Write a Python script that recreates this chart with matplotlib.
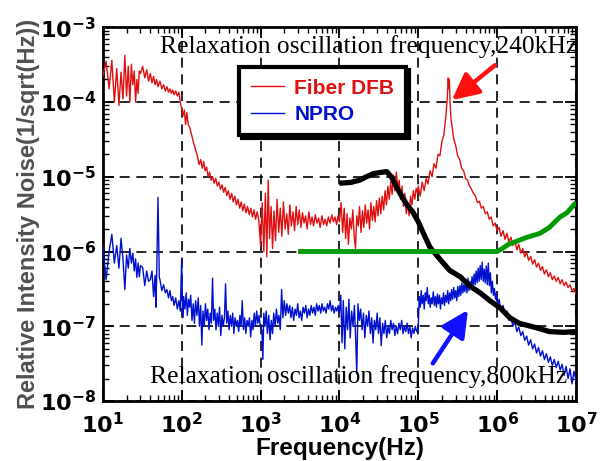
import math
import matplotlib
matplotlib.use("Agg")
import matplotlib.pyplot as plt
from matplotlib.ticker import FuncFormatter, LogLocator

plt.rcParams['mathtext.fontset'] = 'dejavusans'

# Fiber DFB relative intensity noise
red_freq = [10, 11, 12, 13, 14, 15, 16, 17, 18, 19, 20, 21, 22, 23, 24, 25, 26, 27, 28, 29,
            30, 32, 34, 36, 38, 40, 42, 44, 46, 48, 50, 53, 56, 59, 62, 65, 68, 71, 74, 77,
            80, 84, 88, 92, 96,
            100, 104, 108, 112, 116, 121, 127, 134, 142, 150, 158, 166, 174, 182, 190, 198,
            207, 216, 226, 236, 247, 258, 270, 283, 296, 310, 325, 340, 356, 373, 391, 410,
            430, 450, 472, 495, 518, 543, 569, 596, 624, 654, 685, 718, 752, 788, 826, 865,
            906, 950,
            1000, 1050, 1100, 1150, 1200, 1250, 1300, 1360, 1420, 1480, 1550, 1620, 1700,
            1780, 1860, 1950, 2050, 2150, 2250, 2350, 2460, 2580, 2700, 2830, 2960, 3100,
            3250, 3400, 3560, 3730, 3900, 4100, 4300, 4500, 4700, 4950, 5200, 5450, 5700,
            6000, 6300, 6600, 6900, 7250, 7600, 8000, 8400, 8800, 9200, 9600,
            10000, 10500, 11000, 11500, 12000, 12500, 13000, 13600, 14200, 14800, 15400,
            16000, 16600, 17300, 18000, 18800, 19600, 20400, 21300, 22200, 23100, 24100,
            25100, 26200, 27300, 28400, 29600, 30800, 32100, 33500, 34900, 36400, 37900,
            39500, 41200, 42900, 44700, 46600, 48600, 50600, 52800, 55000, 57300, 59700,
            62200, 64900, 67600, 70500, 73400, 76500, 79800, 83100, 86600, 90300, 94100,
            98000,
            100000, 106000, 112000, 119000, 126000, 133000, 141000, 150000, 158000, 168000,
            178000, 188000, 200000, 211000, 224000, 233000, 240000, 245000, 248000, 253000,
            260000, 270000, 282000, 299000, 316000, 335000, 355000, 376000, 398000, 422000,
            447000, 473000, 501000, 531000, 562000, 596000, 631000, 668000, 708000, 750000,
            794000, 841000, 891000, 944000,
            1000000, 1060000, 1120000, 1190000, 1260000, 1330000, 1410000, 1500000, 1580000,
            1680000, 1780000, 1880000, 2000000, 2110000, 2240000, 2370000, 2510000, 2660000,
            2820000, 2990000, 3160000, 3350000, 3550000, 3760000, 3980000, 4220000, 4470000,
            4730000, 5010000, 5310000, 5620000, 5960000, 6310000, 6680000, 7080000, 7500000,
            7940000, 8410000, 8910000, 9440000, 10000000]
red_rin = [2.2e-4, 3.5e-4, 1.5e-4, 3.6e-4, 1.0e-4, 2.8e-4, 0.9e-4, 2.5e-4, 1.1e-4, 4.2e-4,
           1.2e-4, 3.0e-4, 1.0e-4, 3.2e-4, 1.7e-4, 2.6e-4, 1.0e-4, 2.0e-4, 1.3e-4, 2.6e-4,
           2.4e-4, 3.0e-4, 2.1e-4, 2.7e-4, 1.9e-4, 2.4e-4, 1.8e-4, 2.2e-4, 1.7e-4, 2.0e-4,
           1.6e-4, 1.9e-4, 1.5e-4, 1.7e-4, 1.4e-4, 1.6e-4, 1.35e-4, 1.5e-4, 1.3e-4, 1.45e-4,
           1.25e-4, 1.4e-4, 1.2e-4, 1.35e-4, 1.0e-4,
           8.0e-5, 6.5e-5, 7.8e-5, 5.0e-5, 7.2e-5, 5.0e-5, 4.5e-5, 3.6e-5, 2.8e-5, 2.3e-5,
           1.9e-5, 1.45e-5, 1.7e-5, 1.3e-5, 1.6e-5, 1.2e-5, 1.35e-5, 1.0e-5, 1.15e-5, 9.0e-6,
           1.0e-5, 8.2e-6, 9.5e-6, 7.5e-6, 8.5e-6, 6.8e-6, 7.8e-6, 6.2e-6, 7.2e-6, 5.6e-6,
           6.5e-6, 5.0e-6, 6.0e-6, 4.6e-6, 5.5e-6, 4.2e-6, 5.0e-6, 3.8e-6, 4.6e-6, 3.5e-6,
           4.3e-6, 3.3e-6, 4.0e-6, 3.1e-6, 3.8e-6, 2.9e-6, 3.6e-6, 2.7e-6, 3.4e-6, 2.6e-6,
           1.2e-6, 4.5e-6, 1.0e-6, 6.0e-6, 0.85e-6, 9.0e-6, 1.5e-6, 4.0e-6, 1.1e-6, 3.5e-6,
           1.4e-6, 5.0e-6, 1.8e-6, 3.8e-6, 1.6e-6, 4.6e-6, 2.0e-6, 3.2e-6, 1.7e-6, 4.2e-6,
           2.2e-6, 3.4e-6, 1.9e-6, 4.0e-6, 2.3e-6, 3.6e-6, 2.1e-6, 3.3e-6, 2.4e-6, 3.0e-6,
           2.0e-6, 3.4e-6, 2.3e-6, 2.9e-6, 2.2e-6, 3.1e-6, 2.4e-6, 2.8e-6, 2.1e-6, 3.0e-6,
           2.3e-6, 2.7e-6, 2.2e-6, 2.9e-6, 2.4e-6, 3.1e-6, 2.5e-6, 2.9e-6, 2.3e-6, 3.0e-6,
           2.5e-6, 4.5e-6, 1.8e-6, 3.8e-6, 1.5e-6, 3.2e-6, 1.25e-6, 2.8e-6, 2.0e-6, 3.6e-6,
           1.6e-6, 1.1e-6, 3.0e-6, 2.2e-6, 4.0e-6, 1.8e-6, 3.5e-6, 2.1e-6, 4.2e-6, 2.4e-6,
           3.6e-6, 2.0e-6, 4.5e-6, 2.6e-6, 4.0e-6, 2.5e-6, 4.8e-6, 3.0e-6, 5.2e-6, 3.2e-6,
           5.5e-6, 3.6e-6, 6.5e-6, 4.2e-6, 7.5e-6, 5.0e-6, 8.5e-6, 5.8e-6, 10.5e-6, 6.5e-6,
           11.5e-6, 7.0e-6, 9.0e-6, 5.0e-6, 7.5e-6, 4.0e-6, 6.0e-6, 3.2e-6, 4.5e-6, 3.0e-6,
           5.5e-6, 4.2e-6, 6.5e-6, 5.0e-6, 7.0e-6, 6.0e-6,
           7.5e-6, 5.5e-6, 8.5e-6, 6.5e-6, 9.5e-6, 8.0e-6, 1.2e-5, 1.0e-5, 1.5e-5, 1.3e-5,
           2.0e-5, 1.9e-5, 3.0e-5, 3.6e-5, 6.5e-5, 1.1e-4, 2.1e-4, 1.5e-4, 2.0e-4, 1.0e-4,
           6.0e-5, 4.5e-5, 3.2e-5, 2.6e-5, 1.9e-5, 1.7e-5, 1.3e-5, 1.2e-5, 9.5e-6, 9.0e-6,
           7.5e-6, 6.8e-6, 6.0e-6, 5.5e-6, 4.5e-6, 4.7e-6, 3.8e-6, 4.0e-6, 3.2e-6, 3.4e-6,
           2.7e-6, 2.9e-6, 2.2e-6, 2.4e-6,
           1.9e-6, 2.1e-6, 1.6e-6, 1.9e-6, 1.45e-6, 1.75e-6, 1.35e-6, 1.55e-6, 1.2e-6,
           1.4e-6, 1.05e-6, 1.25e-6, 0.95e-6, 1.1e-6, 0.85e-6, 0.98e-6, 0.76e-6, 0.86e-6,
           0.68e-6, 0.78e-6, 0.62e-6, 0.7e-6, 0.56e-6, 0.63e-6, 0.5e-6, 0.57e-6, 0.46e-6,
           0.52e-6, 0.42e-6, 0.47e-6, 0.4e-6, 0.45e-6, 0.37e-6, 0.42e-6, 0.35e-6, 0.39e-6,
           0.33e-6, 0.36e-6, 0.3e-6, 0.32e-6, 0.27e-6]

# NPRO relative intensity noise
blue_freq = [10, 11, 12, 13, 14, 15, 16, 17, 18, 19, 20, 21, 22, 23, 24, 25, 26, 27, 28, 29,
             30, 32, 34, 36, 38, 40, 42, 44, 46, 47, 48, 50, 52, 53, 56, 59, 62, 65, 68, 71,
             74, 77, 80, 84, 88, 92, 96, 100,
             103, 106, 110, 114, 118, 122, 126, 130, 135, 140, 145, 150, 156, 162, 168, 174,
             180, 186, 193, 200, 207, 214, 222, 230, 238, 246, 254, 263, 272, 282, 292, 302,
             313, 324, 336, 348, 360, 372, 385, 399, 413, 428, 443, 459, 475, 492, 510, 528,
             547, 566, 586, 607, 629, 651, 674, 698, 723, 749, 776, 803, 832, 862, 892, 924,
             957, 990,
             1040, 1070, 1100, 1140, 1180, 1220, 1270, 1320, 1370, 1420, 1470, 1530, 1590,
             1650, 1710, 1780, 1850, 1920, 2000, 2080, 2160, 2250, 2340, 2430, 2530, 2630,
             2740, 2850, 2960, 3080, 3200, 3330, 3460, 3600, 3750, 3900, 4060, 4220, 4390,
             4570, 4750, 4940, 5140, 5350, 5560, 5790, 6020, 6260, 6510, 6780, 7050, 7330,
             7630, 7930, 8250, 8580, 8930, 9290, 9660,
             10000, 10400, 10800, 11200, 11700, 12200, 12700, 13200, 13700, 14300, 14900,
             15500, 16000, 16600, 17200, 17900, 18600, 19400, 20200, 21000, 21900, 22800,
             23700, 24700, 25700, 26700, 27800, 28900, 30100, 31300, 32600, 33900, 35300,
             36700, 38200, 39800, 41400, 43100, 44800, 46600, 48500, 50500, 52500, 54700,
             56900, 59200, 61600, 64100, 66700, 69400, 72200, 75100, 78200, 81300, 84600,
             88100, 91600, 95300, 98000,
             100000, 103000, 106000, 109000, 112000, 116000, 119000, 123000, 126000, 130000,
             134000, 138000, 142000, 146000, 150000, 155000, 160000, 165000, 170000, 175000,
             180000, 186000, 191000, 197000, 203000, 209000, 215000, 222000, 229000, 236000,
             243000, 250000, 258000, 265000, 273000, 282000, 290000, 299000, 308000, 317000,
             327000, 337000, 347000, 357000, 368000, 379000, 391000, 402000, 415000, 427000,
             440000, 453000, 467000, 481000, 496000, 511000, 526000, 542000, 558000, 575000,
             592000, 610000, 628000, 647000, 667000, 687000, 707000, 729000, 751000, 773000,
             797000, 821000, 845000, 871000, 897000, 924000, 952000, 981000,
             1010000, 1060000, 1120000, 1190000, 1260000, 1330000, 1410000, 1500000, 1580000,
             1680000, 1780000, 1880000, 2000000, 2110000, 2240000, 2370000, 2510000, 2660000,
             2820000, 2990000, 3160000, 3350000, 3550000, 3760000, 3980000, 4220000, 4470000,
             4730000, 5010000, 5310000, 5620000, 5960000, 6310000, 6680000, 7080000, 7500000,
             7940000, 8410000, 8910000, 9440000, 10000000]
blue_rin = [12e-7, 4.2e-7, 10e-7, 17e-7, 7e-7, 12e-7, 6e-7, 15e-7, 8e-7, 3.1e-7,
            9e-7, 6e-7, 11e-7, 7e-7, 9.5e-7, 5.5e-7, 8e-7, 4.5e-7, 7e-7, 4.6e-7,
            6.5e-7, 6.1e-7, 3.5e-7, 5.5e-7, 4.0e-7, 4.2e-7, 5.5e-7, 2.5e-7, 4.8e-7, 1.8e-7,
            4.0e-7, 53e-7, 4.5e-7, 4.2e-7, 3.0e-7, 3.6e-7, 2.8e-7, 3.1e-7, 2.4e-7, 3.0e-7,
            2.2e-7, 2.5e-7, 1.9e-7, 2.4e-7, 1.7e-7, 2.2e-7, 1.6e-7, 8.1e-7,
            1.3e-7, 2.5e-7, 1.7e-7, 2.8e-7, 1.4e-7, 2.3e-7, 1.8e-7, 2.6e-7, 1.2e-7, 2.0e-7,
            1.1e-7, 2.2e-7, 1.4e-7, 2.4e-7, 1.0e-7, 1.9e-7, 0.56e-7, 1.6e-7, 1.0e-7, 2.0e-7,
            1.2e-7, 1.7e-7, 0.9e-7, 1.5e-7, 1.1e-7, 4.4e-7, 1.2e-7, 1.7e-7, 0.9e-7, 1.5e-7,
            1.0e-7, 1.8e-7, 0.75e-7, 1.4e-7, 1.0e-7, 1.3e-7, 3.7e-7, 1.1e-7, 1.6e-7, 0.9e-7,
            1.4e-7, 1.0e-7, 1.5e-7, 0.8e-7, 1.3e-7, 1.0e-7, 1.2e-7, 0.85e-7, 1.4e-7, 1.0e-7,
            2.2e-7, 0.9e-7, 1.3e-7, 0.8e-7, 1.2e-7, 1.0e-7, 1.3e-7, 0.72e-7, 1.2e-7, 0.9e-7,
            1.5e-7, 1.0e-7, 1.6e-7, 1.1e-7, 1.4e-7, 1.0e-7,
            0.9e-7, 0.36e-7, 1.5e-7, 1.0e-7, 1.6e-7, 0.8e-7, 1.4e-7, 0.66e-7, 1.2e-7, 0.8e-7,
            1.5e-7, 1.0e-7, 1.7e-7, 1.1e-7, 1.4e-7, 0.9e-7, 3.1e-7, 1.3e-7, 2.2e-7, 1.4e-7,
            2.0e-7, 1.5e-7, 1.9e-7, 1.3e-7, 1.8e-7, 1.2e-7, 1.7e-7, 1.4e-7, 2.0e-7, 1.3e-7,
            1.6e-7, 1.2e-7, 1.8e-7, 1.5e-7, 1.9e-7, 1.3e-7, 1.7e-7, 1.4e-7, 1.9e-7, 1.5e-7,
            1.8e-7, 1.4e-7, 2.0e-7, 1.6e-7, 1.9e-7, 1.5e-7, 2.0e-7, 1.6e-7, 1.8e-7, 1.5e-7,
            2.0e-7, 1.7e-7, 2.2e-7, 1.6e-7, 1.9e-7, 1.5e-7, 1.8e-7, 1.6e-7, 1.9e-7,
            1.5e-7, 2.6e-7, 0.6e-7, 2.2e-7, 0.5e-7, 1.8e-7, 0.9e-7, 2.3e-7, 0.7e-7, 1.6e-7,
            1.0e-7, 1.9e-7, 0.8e-7, 0.23e-7, 2.0e-7, 1.2e-7, 1.7e-7, 0.9e-7, 1.5e-7, 0.7e-7,
            1.4e-7, 1.0e-7, 1.6e-7, 0.8e-7, 1.3e-7, 0.6e-7, 1.2e-7, 0.9e-7, 1.5e-7, 0.8e-7,
            1.3e-7, 0.55e-7, 1.1e-7, 0.8e-7, 1.2e-7, 0.7e-7, 1.0e-7, 0.8e-7, 1.2e-7, 0.9e-7,
            1.1e-7, 0.75e-7, 1.0e-7, 0.8e-7, 1.1e-7, 0.9e-7, 1.2e-7, 0.8e-7, 1.0e-7, 0.85e-7,
            1.1e-7, 0.8e-7, 1.0e-7, 0.7e-7, 0.95e-7, 0.8e-7, 1.0e-7, 0.85e-7, 0.9e-7,
            1.0e-7, 2.5e-7, 1.8e-7, 3.0e-7, 2.0e-7, 2.6e-7, 1.7e-7, 2.8e-7, 2.2e-7, 3.3e-7,
            2.0e-7, 2.6e-7, 1.8e-7, 2.4e-7, 2.0e-7, 2.9e-7, 1.9e-7, 2.5e-7, 1.8e-7, 2.7e-7,
            2.0e-7, 2.6e-7, 1.7e-7, 2.4e-7, 2.0e-7, 2.8e-7, 1.9e-7, 2.6e-7, 2.1e-7, 3.0e-7,
            2.0e-7, 2.8e-7, 2.2e-7, 3.1e-7, 2.3e-7, 3.3e-7, 2.4e-7, 3.0e-7, 2.2e-7, 3.4e-7,
            2.5e-7, 3.5e-7, 2.6e-7, 3.8e-7, 2.8e-7, 3.6e-7, 2.9e-7, 4.0e-7, 2.8e-7, 4.4e-7,
            3.0e-7, 4.0e-7, 3.2e-7, 4.6e-7, 3.4e-7, 5.0e-7, 3.6e-7, 5.5e-7, 3.8e-7, 6.0e-7,
            4.0e-7, 6.5e-7, 4.2e-7, 7.2e-7, 4.0e-7, 5.8e-7, 3.8e-7, 6.4e-7, 3.6e-7, 7.0e-7,
            3.5e-7, 5.2e-7, 2.8e-7, 4.0e-7, 2.6e-7, 3.2e-7, 2.3e-7, 2.8e-7,
            1.9e-7, 2.3e-7, 1.6e-7, 1.9e-7, 1.4e-7, 1.6e-7, 1.2e-7, 1.35e-7, 1.0e-7,
            1.15e-7, 0.85e-7, 0.98e-7, 0.75e-7, 0.85e-7, 0.65e-7, 0.74e-7, 0.56e-7, 0.66e-7,
            0.5e-7, 0.58e-7, 0.44e-7, 0.52e-7, 0.4e-7, 0.47e-7, 0.36e-7, 0.43e-7, 0.33e-7,
            0.39e-7, 0.3e-7, 0.36e-7, 0.28e-7, 0.34e-7, 0.26e-7, 0.31e-7, 0.22e-7, 0.29e-7,
            0.2e-7, 0.27e-7, 0.17e-7, 0.25e-7, 0.19e-7]

# smooth black curve
black_freq = [1e4, 1.4e4, 1.8e4, 2.2e4, 2.7e4, 3.3e4, 4e4, 4.6e4, 5.4e4, 6.3e4, 7.2e4,
              8.5e4, 1e5, 1.15e5, 1.4e5, 1.9e5, 2.5e5, 3.4e5, 4.6e5, 6.1e5, 8.1e5, 1.1e6,
              1.45e6, 1.9e6, 3.1e6, 4.6e6, 7e6, 1e7]
black_rin = [8.2e-6, 8.4e-6, 9.0e-6, 1.0e-5, 1.1e-5, 1.14e-5, 1.17e-5, 9.8e-6, 7.0e-6,
             5.3e-6, 4.2e-6, 3.4e-6, 2.5e-6, 1.8e-6, 1.15e-6, 7.8e-7, 5.6e-7, 4.6e-7,
             3.4e-7, 2.8e-7, 2.2e-7, 1.75e-7, 1.3e-7, 1.1e-7, 9.6e-8, 8.5e-8, 8.3e-8, 8.5e-8]

# green reference level
green_freq = [3e3, 1e6, 1.2e6, 1.4e6, 1.7e6, 2.4e6, 3.5e6, 4.6e6, 6.3e6, 7.7e6, 9e6, 1e7]
green_rin = [1e-6, 1e-6, 1.12e-6, 1.25e-6, 1.35e-6, 1.55e-6, 1.75e-6, 2.1e-6, 2.9e-6,
             3.3e-6, 4.0e-6, 4.5e-6]

series_labels = ['Fiber DFB', 'NPRO']
note_top = 'Relaxation oscillation frequency,240kHz'
note_bottom = 'Relaxation oscillation frequency,800kHz'

fig = plt.figure(figsize=(6.05, 4.61), dpi=100)
ax = fig.add_axes([0.170, 0.130, 0.782, 0.811])

ax.loglog(red_freq, red_rin, color='#e01010', lw=1.0, label=series_labels[0], zorder=3)
ax.loglog(blue_freq, blue_rin, color='#0010d0', lw=1.0, label=series_labels[1], zorder=3)
ax.loglog(black_freq, black_rin, color='k', lw=3.8, solid_capstyle='butt', zorder=4)
ax.loglog(green_freq, green_rin, color='#009a00', lw=3.5, solid_capstyle='butt', zorder=4)

ax.set_xlim(10, 1e7)
ax.set_ylim(1e-8, 1e-3)
ax.xaxis.set_major_locator(LogLocator(base=10, numticks=10))
ax.yaxis.set_major_locator(LogLocator(base=10, numticks=10))
ax.xaxis.set_minor_locator(LogLocator(base=10, subs=range(2, 10), numticks=100))
ax.yaxis.set_minor_locator(LogLocator(base=10, subs=range(2, 10), numticks=100))
fmt = FuncFormatter(lambda v, p: r'$\mathbf{10^{%d}}$' % round(math.log10(v)))
ax.xaxis.set_major_formatter(fmt)
ax.yaxis.set_major_formatter(fmt)

ax.grid(True, which='major', color='k', ls=(0, (6, 4)), lw=1.2)
ax.set_axisbelow(True)
ax.tick_params(which='both', direction='in', top=True, right=True, labelsize=16)
ax.tick_params(which='major', length=8, width=1.3, pad=5)
ax.tick_params(axis='x', which='major', pad=8)
ax.tick_params(which='minor', length=4, width=1.0)
for s in ax.spines.values():
    s.set_linewidth(2)

ax.set_xlabel('Frequency(Hz)', fontsize=17.5, fontweight='bold',
              family='Liberation Sans', labelpad=0)
ax.set_ylabel('Relative Intensity Noise(1/sqrt(Hz))', fontsize=17, fontweight='bold',
              family='Liberation Sans', color='#505050', labelpad=0)

leg = ax.legend(loc='upper left', bbox_to_anchor=(0.288, 0.893), borderaxespad=0,
                prop={'family': 'Liberation Sans', 'weight': 'bold', 'size': 15},
                labelcolor='linecolor', handlelength=1.6, fancybox=False,
                shadow={'color': 'k', 'alpha': 1.0}, framealpha=1, borderpad=0.55,
                labelspacing=0.35, handletextpad=0.5)
leg.get_frame().set_edgecolor('k')
leg.get_frame().set_linewidth(3)
leg.set_zorder(6)

ax.text(52.9, 4.5e-4, note_top, family='Liberation Serif', fontsize=18.4,
        va='baseline', ha='left', clip_on=False, zorder=7)
ax.text(39.5, 1.74e-8, note_bottom, family='Liberation Serif', fontsize=18.4,
        va='baseline', ha='left', clip_on=False, zorder=7)

arrow_style = '-|>,head_length=0.8,head_width=0.4'
ax.annotate('', xy=(2.67e5, 1.06e-4), xytext=(9.4e5, 3.1e-4),
            arrowprops=dict(arrowstyle=arrow_style, color='#ff1010', lw=3.2,
                            mutation_scale=20, shrinkA=0, shrinkB=0),
            zorder=7)
ax.annotate('', xy=(4.27e5, 1.65e-7), xytext=(1.53e5, 3.2e-8),
            arrowprops=dict(arrowstyle=arrow_style, color='#1010ff', lw=3.2,
                            mutation_scale=20, shrinkA=0, shrinkB=0),
            zorder=7)

plt.savefig('out.png', dpi=100)
